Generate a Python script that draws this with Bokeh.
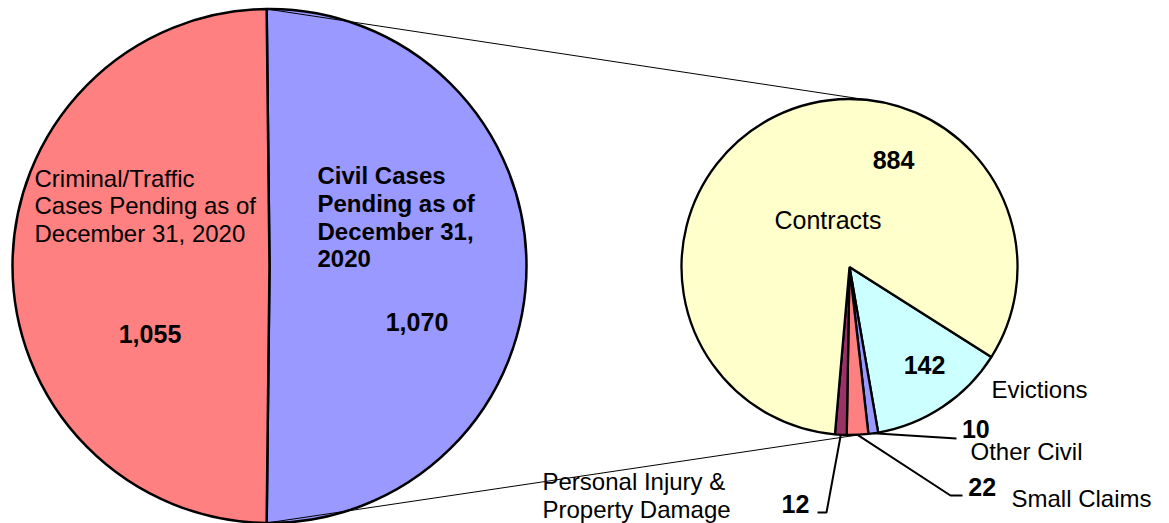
import math
from bokeh.plotting import figure
from bokeh.models import Range1d
from bokeh.core.properties import value
from bokeh.embed import file_html
from bokeh.resources import INLINE

# ---------------- data ----------------
main_cats = ["Civil", "Criminal/Traffic"]
main_values = [1070, 1055]
main_colors = ["#9999FF", "#FF8080"]

civil_cats = ["Evictions", "Other Civil", "Small Claims",
              "Personal Injury & Property Damage", "Contracts"]
civil_values = [142, 10, 22, 12, 884]
civil_colors = ["#CCFFFF", "#9999FF", "#FF8080", "#993366", "#FFFFCC"]

main_text = {
    "Civil": ["Civil Cases", "Pending as of", "December 31,", "2020"],
    "Criminal/Traffic": ["Criminal/Traffic", "Cases Pending as of", "December 31, 2020"],
}
civil_text = {
    "Evictions": ["Evictions"],
    "Other Civil": ["Other Civil"],
    "Small Claims": ["Small Claims"],
    "Personal Injury & Property Damage": ["Personal Injury &", "Property Damage"],
    "Contracts": ["Contracts"],
}

# ---------------- layout (screen px) ----------------
W, H = 1169, 523
OX, OY = 0, 523
TXT_DY = -8.5            # correction of text baseline placement
def X(sx): return sx - OX
def Y(sy): return OY - sy
def TY(sy): return OY - (sy + TXT_DY)

C1 = (269.0, 265.5); R1 = 257.0     # main pie
C2 = (849.0, 266.5); R2 = 168.0     # secondary pie
start2_deg = -32.4                   # first slice edge of secondary pie
conn_top_deg, conn_bot_deg = 83.8, -86.6

FONT = value("Liberation Sans")

main_lab_pos = {"Civil": (317, 183.7, 27.7, True), "Criminal/Traffic": (34, 186, 27.8, False)}
main_num_pos = {"Civil": (416.5, 330), "Criminal/Traffic": (149.5, 342)}
civil_lab_pos = {
    "Evictions": (991, 397.5), "Other Civil": (970, 459.3), "Small Claims": (1011, 506),
    "Personal Injury & Property Damage": (542, 489), "Contracts": (774, 227.7),
}
civil_lab_size = {"Contracts": "25px"}
civil_num_pos = {
    "Evictions": (924, 373.3), "Other Civil": (975.3, 437.3), "Small Claims": (981.7, 495),
    "Personal Injury & Property Damage": (795, 511.7), "Contracts": (893, 168.3),
}
leaders = {
    "Other Civil": [(956, 438)],
    "Small Claims": [(950, 495), (962, 495)],
    "Personal Injury & Property Damage": [(826, 512), (817, 512)],
}

p = figure(width=W, height=H, x_range=Range1d(0, W), y_range=Range1d(0, H),
           output_backend="svg", toolbar_location=None,
           x_axis_location=None, y_axis_location=None, min_border=0)
p.outline_line_color = None
p.xgrid.grid_line_color = None
p.ygrid.grid_line_color = None
p.background_fill_color = "white"
p.border_fill_color = "white"

def pie_angles(vals, start):
    tot = float(sum(vals))
    starts, ends = [], []
    a = start
    for v in vals:
        da = v / tot * 2 * math.pi
        starts.append(a)
        ends.append(a - da)
        a -= da
    return starts, ends

m_span = main_values[0] / sum(main_values) * 2 * math.pi
ms, me = pie_angles(main_values, m_span / 2)
p.wedge(x=X(C1[0]), y=Y(C1[1]), radius=R1, start_angle=ms, end_angle=me,
        direction="clock", fill_color=main_colors, line_color="black", line_width=2.5)

cs, ce = pie_angles(civil_values, math.radians(start2_deg))
p.wedge(x=X(C2[0]), y=Y(C2[1]), radius=R2, start_angle=cs, end_angle=ce,
        direction="clock", fill_color=civil_colors, line_color="black", line_width=2.3)

def on_circle(c, r, ang):
    return (X(c[0]) + r * math.cos(ang), Y(c[1]) + r * math.sin(ang))
t1 = on_circle(C1, R1, ms[0]); b1 = on_circle(C1, R1, me[0])
t2 = on_circle(C2, R2, math.radians(conn_top_deg)); b2 = on_circle(C2, R2, math.radians(conn_bot_deg))
p.segment(x0=[t1[0], b1[0]], y0=[t1[1], b1[1]], x1=[t2[0], b2[0]], y1=[t2[1], b2[1]],
          line_color="black", line_width=1)

for i, cat in enumerate(civil_cats):
    if cat in leaders:
        mid = (cs[i] + ce[i]) / 2
        s = on_circle(C2, R2, mid)
        xs = [s[0]] + [X(a) for a, b in leaders[cat]]
        ys = [s[1]] + [Y(b) for a, b in leaders[cat]]
        p.line(xs, ys, line_color="black", line_width=2)

for cat in main_cats:
    x0, y0, dy, bold = main_lab_pos[cat]
    lines = main_text[cat]
    p.text(x=[X(x0)] * len(lines), y=[TY(y0 + k * dy) for k in range(len(lines))], text=lines,
           text_font=FONT, text_font_size="24px", text_font_style="bold" if bold else "normal",
           text_align="left", text_baseline="alphabetic", text_color="black")
nx = [X(main_num_pos[c][0]) for c in main_cats]
ny = [TY(main_num_pos[c][1]) for c in main_cats]
p.text(x=nx, y=ny, text=[f"{v:,}" for v in main_values], text_font=FONT, text_font_size="25px",
       text_font_style="bold", text_align="center", text_baseline="alphabetic", text_color="black")

for cat in civil_cats:
    x0, y0 = civil_lab_pos[cat]
    lines = civil_text[cat]
    p.text(x=[X(x0)] * len(lines), y=[TY(y0 + k * 28) for k in range(len(lines))], text=lines,
           text_font=FONT, text_font_size=civil_lab_size.get(cat, "24px"), text_align="left",
           text_baseline="alphabetic", text_color="black")
nx = [X(civil_num_pos[c][0]) for c in civil_cats]
ny = [TY(civil_num_pos[c][1]) for c in civil_cats]
p.text(x=nx, y=ny, text=[f"{v:,}" for v in civil_values], text_font=FONT, text_font_size="25px",
       text_font_style="bold", text_align="center", text_baseline="alphabetic", text_color="black")

open("out.html", "w").write(file_html(p, INLINE))
